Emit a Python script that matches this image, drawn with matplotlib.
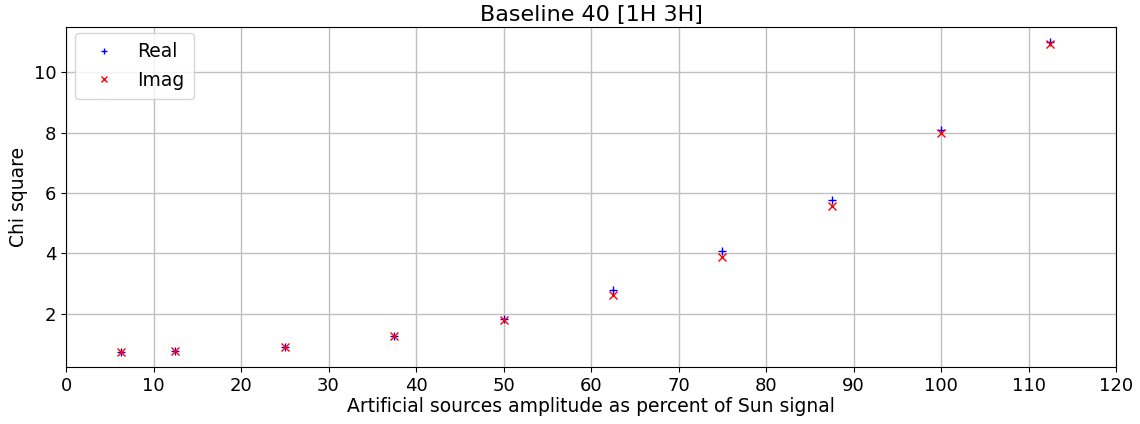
import matplotlib
matplotlib.use("Agg")
import matplotlib.pyplot as plt

amplitude = [6.25, 12.5, 25, 37.5, 50, 62.5, 75, 87.5, 100, 112.5]
chi_real = [0.75, 0.77, 0.91, 1.27, 1.84, 2.80, 4.08, 5.76, 8.08, 10.99]
chi_imag = [0.75, 0.76, 0.90, 1.26, 1.81, 2.61, 3.87, 5.56, 8.00, 10.94]

fig = plt.figure(figsize=(11.4, 4.24), dpi=100)
ax = fig.add_axes([66/1140, 1 - 367/424, (1116-66)/1140, (367-27)/424])
ax.plot(amplitude, chi_real, '+', color='blue', label='Real', markersize=6)
ax.plot(amplitude, chi_imag, 'x', color='red', label='Imag', markersize=5.5)
ax.set_xlim(0, 120)
ax.set_xticks(range(0, 121, 10))
ax.grid(True, color='#c0c0c0', linewidth=1)
ax.tick_params(labelsize=13)
ax.set_xlabel('Artificial sources amplitude as percent of Sun signal', fontsize=13.5, labelpad=2)
ax.set_ylabel('Chi square', fontsize=13.5)
ax.set_title('Baseline 40 [1H 3H]', fontsize=16, pad=4)
ax.legend(loc='upper left', fontsize=13.5, markerscale=0.8, borderpad=0.5,
          bbox_to_anchor=(0.0, 1.01))
fig.savefig('out.png', dpi=100)
